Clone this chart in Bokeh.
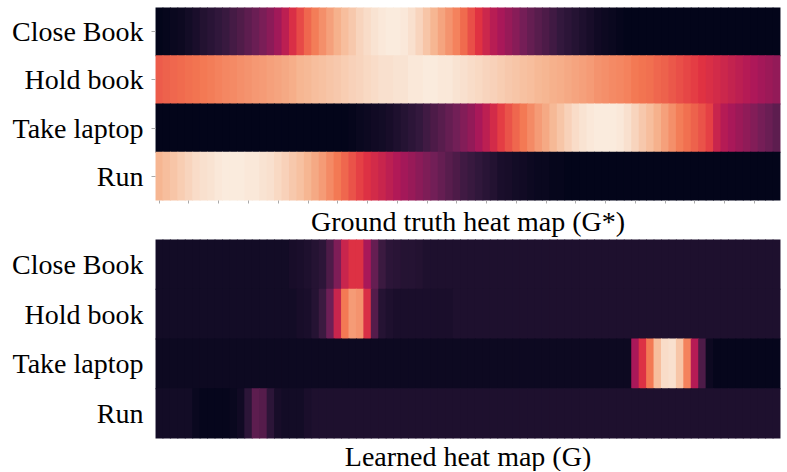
import numpy as np
from bokeh.plotting import figure
from bokeh.models import (Range1d, FactorRange, FixedTicker, LinearColorMapper,
                          ColumnDataSource, Title, CustomJSTickFormatter)
from bokeh.layouts import column
from bokeh.embed import file_html
from bokeh.resources import INLINE

# ---------------- data ----------------
rows = ["Close Book", "Hold book", "Take laptop", "Run"]
n_cols = 84

gt_close_book = [0.00, 0.01, 0.02, 0.03, 0.05, 0.07, 0.09, 0.11, 0.13, 0.15,
                 0.18, 0.21, 0.24, 0.27, 0.31, 0.35, 0.40, 0.47, 0.55, 0.62,
                 0.68, 0.73, 0.77, 0.81, 0.85, 0.88, 0.91, 0.94, 0.96, 0.98,
                 0.99, 1.00, 1.00, 0.99, 0.97, 0.94, 0.90, 0.86, 0.82, 0.78,
                 0.74, 0.69, 0.63, 0.57, 0.51, 0.46, 0.42, 0.38, 0.34, 0.30,
                 0.26, 0.23, 0.20, 0.17, 0.14, 0.12, 0.10, 0.08, 0.06, 0.04,
                 0.03, 0.02, 0.01, 0.00, 0.00, 0.00, 0.00, 0.00, 0.00, 0.00,
                 0.00, 0.00, 0.00, 0.00, 0.00, 0.00, 0.00, 0.00, 0.00, 0.00,
                 0.00, 0.00, 0.00, 0.00]
gt_hold_book = [0.66, 0.67, 0.68, 0.69, 0.70, 0.71, 0.72, 0.73, 0.74, 0.75,
                0.76, 0.77, 0.78, 0.79, 0.80, 0.81, 0.82, 0.83, 0.84, 0.86,
                0.87, 0.88, 0.89, 0.90, 0.91, 0.92, 0.93, 0.94, 0.95, 0.96,
                0.97, 0.97, 0.98, 0.98, 0.99, 0.99, 1.00, 1.00, 0.99, 0.99,
                0.98, 0.97, 0.96, 0.95, 0.94, 0.93, 0.92, 0.91, 0.90, 0.89,
                0.88, 0.87, 0.86, 0.85, 0.84, 0.83, 0.82, 0.81, 0.80, 0.78,
                0.77, 0.76, 0.75, 0.74, 0.72, 0.71, 0.70, 0.68, 0.67, 0.65,
                0.63, 0.61, 0.59, 0.57, 0.55, 0.53, 0.51, 0.49, 0.47, 0.45,
                0.43, 0.41, 0.39, 0.37]
gt_take_laptop = [0.00, 0.00, 0.00, 0.00, 0.00, 0.00, 0.00, 0.00, 0.00, 0.00,
                  0.00, 0.00, 0.00, 0.00, 0.00, 0.00, 0.00, 0.00, 0.00, 0.00,
                  0.00, 0.00, 0.00, 0.00, 0.00, 0.00, 0.01, 0.02, 0.03, 0.04,
                  0.05, 0.06, 0.08, 0.10, 0.12, 0.14, 0.17, 0.20, 0.23, 0.26,
                  0.29, 0.33, 0.37, 0.42, 0.47, 0.53, 0.59, 0.64, 0.68, 0.72,
                  0.76, 0.80, 0.83, 0.87, 0.90, 0.93, 0.96, 0.98, 0.99, 1.00,
                  1.00, 1.00, 0.99, 0.97, 0.94, 0.91, 0.88, 0.85, 0.81, 0.77,
                  0.73, 0.70, 0.67, 0.64, 0.60, 0.50, 0.45, 0.42, 0.39, 0.36,
                  0.33, 0.30, 0.27, 0.24]
gt_run = [0.86, 0.88, 0.90, 0.92, 0.94, 0.96, 0.97, 0.98, 0.99, 1.00,
          1.00, 1.00, 0.99, 0.99, 0.98, 0.97, 0.95, 0.93, 0.91, 0.89,
          0.86, 0.83, 0.80, 0.76, 0.72, 0.68, 0.64, 0.60, 0.56, 0.53,
          0.50, 0.47, 0.44, 0.41, 0.38, 0.35, 0.32, 0.29, 0.26, 0.23,
          0.20, 0.17, 0.15, 0.13, 0.11, 0.09, 0.07, 0.06, 0.05, 0.04,
          0.03, 0.02, 0.02, 0.01, 0.01, 0.00, 0.00, 0.00, 0.00, 0.00,
          0.00, 0.00, 0.00, 0.00, 0.00, 0.00, 0.00, 0.00, 0.00, 0.00,
          0.00, 0.00, 0.00, 0.00, 0.00, 0.00, 0.00, 0.00, 0.00, 0.00,
          0.00, 0.00, 0.00, 0.00]

lr_close_book = [0.05, 0.05, 0.05, 0.05, 0.05, 0.05, 0.05, 0.05, 0.05, 0.05,
                 0.05, 0.05, 0.05, 0.05, 0.05, 0.05, 0.05, 0.05, 0.06, 0.07,
                 0.08, 0.10, 0.12, 0.20, 0.32, 0.50, 0.56, 0.56, 0.42, 0.26,
                 0.16, 0.12, 0.11, 0.10, 0.10, 0.09, 0.08, 0.08, 0.08, 0.08,
                 0.08, 0.08, 0.08, 0.08, 0.08, 0.08, 0.08, 0.08, 0.08, 0.08,
                 0.08, 0.08, 0.08, 0.08, 0.08, 0.08, 0.08, 0.08, 0.08, 0.08,
                 0.08, 0.08, 0.08, 0.08, 0.08, 0.08, 0.08, 0.08, 0.08, 0.08,
                 0.08, 0.08, 0.08, 0.08, 0.08, 0.08, 0.08, 0.08, 0.08, 0.08,
                 0.08, 0.08, 0.08, 0.08]
lr_hold_book = [0.05, 0.05, 0.05, 0.05, 0.05, 0.05, 0.05, 0.05, 0.05, 0.05,
                0.05, 0.05, 0.05, 0.05, 0.05, 0.05, 0.05, 0.05, 0.05, 0.06,
                0.07, 0.10, 0.16, 0.28, 0.50, 0.72, 0.80, 0.78, 0.55, 0.22,
                0.10, 0.08, 0.07, 0.07, 0.07, 0.07, 0.07, 0.07, 0.07, 0.07,
                0.08, 0.08, 0.08, 0.08, 0.08, 0.08, 0.08, 0.08, 0.08, 0.08,
                0.08, 0.08, 0.08, 0.08, 0.08, 0.08, 0.08, 0.08, 0.08, 0.08,
                0.08, 0.08, 0.08, 0.08, 0.08, 0.08, 0.08, 0.08, 0.08, 0.08,
                0.08, 0.08, 0.08, 0.08, 0.08, 0.08, 0.08, 0.08, 0.08, 0.08,
                0.08, 0.08, 0.08, 0.08]
lr_take_laptop = [0.03, 0.03, 0.03, 0.03, 0.03, 0.03, 0.03, 0.03, 0.03, 0.03,
                  0.03, 0.03, 0.03, 0.03, 0.03, 0.03, 0.03, 0.03, 0.03, 0.03,
                  0.03, 0.03, 0.03, 0.03, 0.03, 0.03, 0.03, 0.03, 0.03, 0.03,
                  0.03, 0.03, 0.03, 0.03, 0.03, 0.03, 0.03, 0.03, 0.03, 0.03,
                  0.03, 0.03, 0.03, 0.03, 0.03, 0.03, 0.03, 0.03, 0.03, 0.03,
                  0.03, 0.03, 0.03, 0.03, 0.03, 0.03, 0.03, 0.03, 0.03, 0.03,
                  0.03, 0.03, 0.03, 0.03, 0.42, 0.56, 0.72, 0.88, 0.96, 0.97,
                  0.90, 0.74, 0.45, 0.20, 0.03, 0.01, 0.01, 0.01, 0.01, 0.01,
                  0.01, 0.01, 0.01, 0.01]
lr_run = [0.05, 0.05, 0.05, 0.05, 0.05, 0.02, 0.01, 0.01, 0.01, 0.01,
          0.02, 0.04, 0.12, 0.24, 0.22, 0.12, 0.06, 0.05, 0.05, 0.05,
          0.07, 0.08, 0.08, 0.08, 0.08, 0.08, 0.08, 0.08, 0.08, 0.08,
          0.08, 0.08, 0.08, 0.08, 0.08, 0.08, 0.08, 0.08, 0.08, 0.08,
          0.08, 0.08, 0.08, 0.08, 0.08, 0.08, 0.08, 0.08, 0.08, 0.08,
          0.08, 0.08, 0.08, 0.08, 0.08, 0.08, 0.08, 0.08, 0.08, 0.08,
          0.08, 0.08, 0.08, 0.08, 0.08, 0.08, 0.08, 0.08, 0.08, 0.08,
          0.08, 0.08, 0.08, 0.08, 0.08, 0.08, 0.08, 0.08, 0.08, 0.08,
          0.08, 0.08, 0.08, 0.08]

gt_rows = [gt_close_book, gt_hold_book, gt_take_laptop, gt_run]
lr_rows = [lr_close_book, lr_hold_book, lr_take_laptop, lr_run]

# ---------------- rocket-like palette ----------------
anchors = ["#03051A", "#35193E", "#701F57", "#AD1759",
           "#E13342", "#F37651", "#F6B48F", "#FAEBDD"]
anc = np.array([[int(h[i:i + 2], 16) for i in (1, 3, 5)] for h in anchors], float)
pos = np.linspace(0, 1, len(anchors))
pal = []
for v in np.linspace(0, 1, 256):
    rgb = [np.interp(v, pos, anc[:, k]) for k in range(3)]
    pal.append("#%02x%02x%02x" % tuple(int(round(c)) for c in rgb))

mapper = LinearColorMapper(palette=pal, low=0, high=1)
FONT = "Liberation Serif"


def make_panel(data_rows, label, h_frame, top, bottom, show_ticks):
    xs, ys, vs = [], [], []
    for name, vals in zip(rows, data_rows):
        for c, v in enumerate(vals):
            xs.append(c + 0.5)
            ys.append(name)
            vs.append(v)
    src = ColumnDataSource(dict(x=xs, y=ys, v=vs))
    p = figure(x_range=Range1d(0, n_cols), y_range=FactorRange(*rows[::-1]),
               frame_width=625, frame_height=h_frame,
               min_border_left=155, min_border_right=7,
               min_border_top=top, min_border_bottom=bottom,
               output_backend="svg", toolbar_location=None)
    p.rect(x="x", y="y", width=1.12, height=1.02, source=src,
           fill_color={"field": "v", "transform": mapper}, line_color=None)
    p.outline_line_color = None
    p.grid.visible = False
    p.background_fill_color = "white"
    p.border_fill_color = "white"

    if show_ticks:
        p.xaxis.ticker = FixedTicker(ticks=[c + 0.5 for c in range(0, n_cols, 4)])
        p.xaxis.formatter = CustomJSTickFormatter(code="return ''")
        p.xaxis.major_label_standoff = 0
        p.xaxis.axis_line_color = None
        p.xaxis.minor_tick_line_color = None
        p.xaxis.major_tick_in = 0
        p.xaxis.major_tick_out = 3
        p.xaxis.major_tick_line_color = "#aaaaaa"
    else:
        p.xaxis.visible = False

    t = Title(text=label, align="center", offset=12,
              text_font=FONT, text_font_size="28px", text_font_style="normal",
              text_color="black", standoff=0)
    p.add_layout(t, "below")

    p.yaxis.axis_line_color = None
    p.yaxis.major_tick_in = 0
    p.yaxis.major_tick_out = 4 if show_ticks else 0
    p.yaxis.major_tick_line_color = "#aaaaaa"
    p.yaxis.major_label_text_font = FONT
    p.yaxis.major_label_text_font_size = "28px"
    p.yaxis.major_label_text_color = "black"
    p.yaxis.major_label_standoff = 8 if show_ticks else 12
    return p


p1 = make_panel(gt_rows, "Ground truth heat map (G*)", 193, 7, 39, True)
p2 = make_panel(lr_rows, "Learned heat map (G)", 199, 0, 33, False)

layout = column(p1, p2, spacing=0)
open("out.html", "w").write(file_html(layout, INLINE))
